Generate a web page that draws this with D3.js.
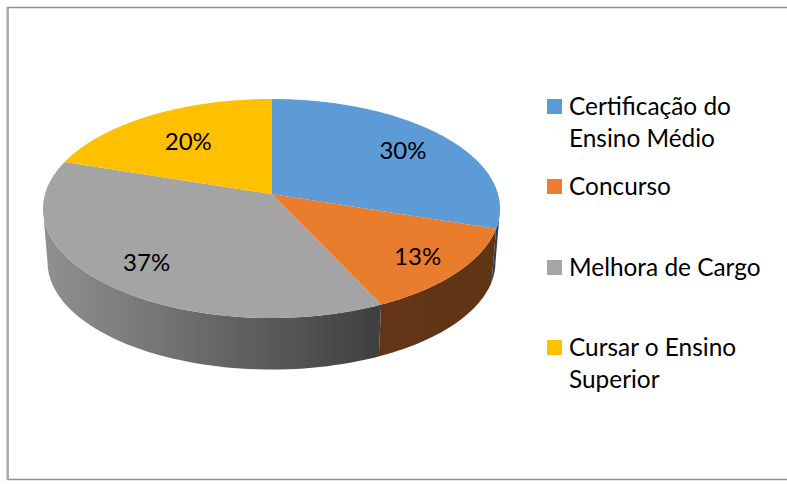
<!DOCTYPE html>
<html>
<head>
<meta charset="utf-8">
<script src="https://d3js.org/d3.v7.min.js"></script>
<style>
	html, body { margin: 0; padding: 0; background: #fff; }
	svg { display: block; }
	text { font-family: Lato, "Noto Sans", sans-serif; fill: #000; }
</style>
</head>
<body>
<div id="chart"></div>
<script>
// values
const categories = ["Certificação do Ensino Médio", "Concurso", "Melhora de Cargo", "Cursar o Ensino Superior"];
const shares = [30, 13, 37, 20];
const legendLines = [["Certificação do", "Ensino Médio"], ["Concurso"], ["Melhora de Cargo"], ["Cursar o Ensino", "Superior"]];
const topColors = ["#5b9bd5", "#ea7b2d", "#a4a4a4", "#ffc000"];

const width = 787, height = 484;

// pie geometry, the pie is tilted so the hub is not in the middle of the ellipse
const cx = 271.5, cy = 194, rx = 226.5, ry = 107.6, tilt = 0.1324;
const depth = 54, bottomScale = 0.98;
// fraction of the radius where each percent label sits
const labelRadius = [0.76, 0.8, 0.77, 0.67];

const svg = d3.select("#chart").append("svg")
	.attr("width", width)
	.attr("height", height);

const defs = svg.append("defs");
defs.append("filter").attr("id", "soft")
	.append("feGaussianBlur").attr("stdDeviation", 0.5);

// wall shading, dark towards the right like the reference
const wallGradients = [
	["#2c4a68", "#263f58"],
	["#633618", "#5f3415"],
	["#909090", "#3f3f3f"],
	["#7f6000", "#7f6000"]
];
const wallExtent = [[470, 505], [378, 500], [45, 380], [45, 100]];
wallGradients.forEach((g, i) => {
	const grad = defs.append("linearGradient")
		.attr("id", "wall" + i)
		.attr("gradientUnits", "userSpaceOnUse")
		.attr("x1", wallExtent[i][0]).attr("x2", wallExtent[i][1])
		.attr("y1", 0).attr("y2", 0);
	grad.append("stop").attr("offset", 0).attr("stop-color", g[0]);
	grad.append("stop").attr("offset", 1).attr("stop-color", g[1]);
});

// frame, there is no line on the right side
svg.append("path")
	.attr("d", "M787,7.5H8V479.5H787")
	.attr("fill", "none")
	.attr("stroke", "#8f8f8f")
	.attr("stroke-width", 1.3);
svg.append("line")
	.attr("x1", 7.5).attr("x2", 7.5).attr("y1", 7).attr("y2", 480)
	.attr("stroke", "#a6a6a6")
	.attr("stroke-width", 2);

const pie = d3.pie().sort(null)(shares);

function project(angle, f) {
	const u = Math.sin(angle) * f, v = Math.cos(angle) * f;
	const w = 1 + tilt * v;
	return [cx + rx * u / w, cy - ry * v / w];
}

function projectBottom(angle) {
	const u = Math.sin(angle), v = Math.cos(angle);
	const w = 1 + tilt * v;
	return [cx + bottomScale * rx * u / w, cy + depth - bottomScale * ry * v / w];
}

const line = d3.line();
const pie3d = svg.append("g").attr("filter", "url(#soft)");

// side wall first, only the part turned to the viewer
const wallFrom = 98 * Math.PI / 180, wallTo = 262 * Math.PI / 180;
pie.forEach((d, i) => {
	const a0 = Math.max(d.startAngle, wallFrom), a1 = Math.min(d.endAngle, wallTo);
	if (a1 <= a0) return;
	const angles = d3.range(0, 61).map(k => a0 + (a1 - a0) * k / 60);
	const pts = angles.map(a => project(a, 1)).concat(angles.slice().reverse().map(projectBottom));
	pie3d.append("path")
		.attr("d", line(pts) + "Z")
		.attr("fill", "url(#wall" + i + ")");
});

// top face
pie.forEach((d, i) => {
	const angles = d3.range(0, 121).map(k => d.startAngle + (d.endAngle - d.startAngle) * k / 120);
	const pts = [[cx, cy]].concat(angles.map(a => project(a, 1)));
	pie3d.append("path")
		.attr("d", line(pts) + "Z")
		.attr("fill", topColors[i]);
});

// percent labels
pie.forEach((d, i) => {
	const p = project((d.startAngle + d.endAngle) / 2, labelRadius[i]);
	svg.append("text")
		.attr("x", p[0]).attr("y", p[1] + 10)
		.attr("text-anchor", "middle")
		.style("font-size", "24px")
		.text(shares[i] + "%");
});

// legend
const legendY = d3.scaleOrdinal().domain(categories).range([99, 179, 260, 340]);
const legendColors = ["#5b9bd5", "#ed7d31", "#a5a5a5", "#ffc000"];
const legend = svg.selectAll(".legend")
	.data(categories)
	.enter().append("g")
	.attr("class", "legend")
	.attr("transform", d => "translate(547," + legendY(d) + ")");
legend.append("rect")
	.attr("width", 15).attr("height", 15)
	.attr("fill", (d, i) => legendColors[i]);
legend.each(function (d, i) {
	d3.select(this).selectAll("text")
		.data(legendLines[i])
		.enter().append("text")
		.attr("x", 22)
		.attr("y", (t, k) => 15.5 + k * 32.5)
		.style("font-size", "24.4px")
		.text(t => t);
});
</script>
</body>
</html>
